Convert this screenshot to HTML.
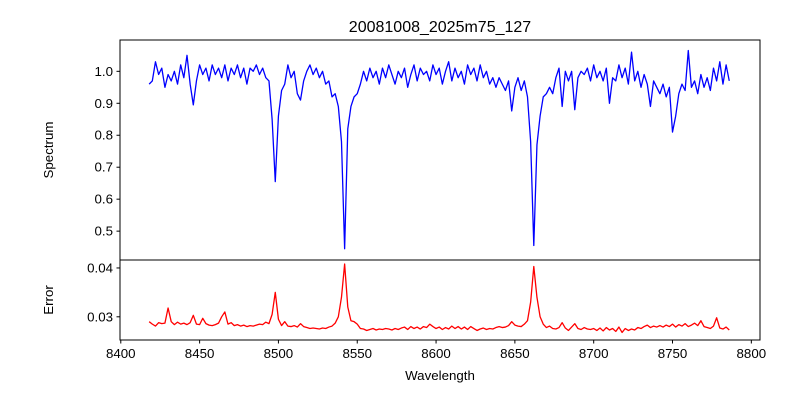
<!DOCTYPE html>
<html><head><meta charset="utf-8"><style>
body{margin:0;background:#fff;}
svg{display:block;font-family:"Liberation Sans","DejaVu Sans",sans-serif;}
</style></head><body>
<svg id="chart" width="800" height="400">
<rect width="800" height="400" fill="#fff"/>
<text x="440" y="32" text-anchor="middle" font-size="16">20081008_2025m75_127</text>
<g id="topPanel"></g>
<g id="botPanel"></g>
<text transform="translate(53,150) rotate(-90)" text-anchor="middle" font-size="13.3">Spectrum</text>
<text transform="translate(53,300) rotate(-90)" text-anchor="middle" font-size="13.3">Error</text>
<text x="440" y="380" text-anchor="middle" font-size="13.3">Wavelength</text>
</svg>
<script>
const waveStart = 8418, waveStep = 2;
const flux = [.96,.97,1.03,.99,1.01,.95,.99,.97,1.00,.96,1.02,.98,1.05,.96,.895,.97,1.02,.99,1.01,.97,1.02,.99,1.01,.98,1.02,.97,1.01,.99,1.02,.98,1.01,.96,1.01,1.00,1.02,.99,1.01,.98,.97,.85,.655,.86,.94,.96,1.02,.98,1.00,.93,.91,.97,1.00,1.02,.99,1.01,.98,1.00,.96,.97,.92,.93,.89,.78,.445,.82,.89,.92,.93,.96,1.00,.97,1.01,.98,1.00,.96,1.01,.98,1.02,.99,.96,1.00,.98,1.01,.95,.99,1.02,.97,1.01,.99,1.00,.97,1.02,.99,1.01,.96,1.00,1.03,.97,1.01,.98,1.00,.96,1.02,.99,1.01,.97,1.02,.98,1.00,.96,.98,.95,.98,.96,.94,.97,.876,.95,.98,.94,.97,.92,.78,.455,.77,.86,.92,.93,.95,.93,.98,1.01,.89,1.00,.97,1.00,.88,.98,1.00,.99,1.01,.97,1.02,.98,1.00,.97,1.01,.90,.98,.97,1.02,.98,1.01,.96,1.06,.97,1.00,.95,.99,.96,.89,.97,.95,.93,.96,.92,.95,.81,.86,.93,.96,.94,1.065,.95,.97,.93,.99,.95,.98,.94,1.01,.97,1.03,.96,1.02,.97];
const err = [.0290,.0285,.0281,.0288,.0286,.0287,.0318,.0290,.0284,.0289,.0285,.0287,.0284,.0288,.0303,.0285,.0284,.0297,.0286,.0283,.0282,.0284,.0287,.0300,.0310,.0285,.0288,.0282,.0284,.0281,.0283,.0280,.0282,.0281,.0283,.0285,.0284,.0289,.0286,.0305,.0350,.0295,.0282,.0290,.0281,.0280,.0282,.0279,.0286,.0280,.0278,.0276,.0277,.0276,.0275,.0277,.0276,.0279,.0281,.0287,.0300,.0340,.0408,.0320,.0292,.0290,.0285,.0276,.0275,.0272,.0274,.0276,.0273,.0275,.0274,.0276,.0275,.0273,.0276,.0274,.0277,.0279,.0274,.0280,.0276,.0279,.0275,.0280,.0278,.0285,.0280,.0276,.0279,.0274,.0278,.0275,.0281,.0276,.0280,.0275,.0279,.0274,.0280,.0276,.0272,.0275,.0277,.0274,.0276,.0275,.0278,.0280,.0278,.0279,.0282,.0290,.0283,.0281,.0280,.0285,.0292,.0330,.0403,.0340,.0300,.0285,.0278,.0281,.0276,.0275,.0278,.0288,.0277,.0272,.0279,.0286,.0276,.0274,.0278,.0275,.0274,.0276,.0272,.0277,.0271,.0278,.0273,.0276,.0270,.0279,.0268,.0276,.0272,.0275,.0273,.0278,.0276,.0280,.0283,.0278,.0281,.0279,.0282,.0279,.0283,.0280,.0285,.0279,.0284,.0281,.0286,.0280,.0283,.0287,.0282,.0292,.0280,.0278,.0276,.0281,.0298,.0277,.0275,.0279,.0273];
const xTicks = [8400,8450,8500,8550,8600,8650,8700,8750,8800];
const fluxTicks = [0.5,0.6,0.7,0.8,0.9,1.0];
const errTicks = [0.03,0.04];

const NS = "http://www.w3.org/2000/svg";
const L = 120, R = 760;
const xMin = 8399.5, xMax = 8805.5;
const X = w => L + (w - xMin) / (xMax - xMin) * (R - L);
const YT = v => 40 + (1.098 - v) / (1.098 - 0.4097) * 220;
const YB = v => 260 + (0.04163 - v) / (0.04163 - 0.02525) * 80;
function mk(tag, attrs, parent){const e=document.createElementNS(NS,tag);for(const k in attrs)e.setAttribute(k,attrs[k]);parent.appendChild(e);return e;}
const topG = document.getElementById('topPanel'), botG = document.getElementById('botPanel');

function drawLine(arr, Y, color, parent, name){
  let d = '';
  arr.forEach((v,i)=>{const w = waveStart + i*waveStep; d += (i?'L':'M') + X(w).toFixed(2) + ',' + Y(v).toFixed(2);});
  const p = mk('path',{d:d,fill:'none',stroke:color,'stroke-width':1.3,'stroke-linejoin':'round'},parent);
  
  
}
drawLine(flux, YT, '#0000ff', topG, 'spectrum-line');
drawLine(err, YB, '#ff0000', botG, 'error-line');

const f1 = mk('rect',{x:L,y:40,width:R-L,height:220,fill:'none',stroke:'#000','stroke-width':1},topG);


const f2 = mk('rect',{x:L,y:260,width:R-L,height:80,fill:'none',stroke:'#000','stroke-width':1},botG);



fluxTicks.forEach(v=>{
  const y = YT(v);
  mk('line',{x1:L-3.5,x2:L,y1:y,y2:y,stroke:'#000'},topG);
  const t = mk('text',{x:L-7,y:y+4.5,'text-anchor':'end','font-size':13.3},topG);
  t.textContent = v.toFixed(1);
  
  
});
errTicks.forEach(v=>{
  const y = YB(v);
  mk('line',{x1:L-3.5,x2:L,y1:y,y2:y,stroke:'#000'},botG);
  const t = mk('text',{x:L-7,y:y+4.5,'text-anchor':'end','font-size':13.3},botG);
  t.textContent = v.toFixed(2);
  
  
});
xTicks.forEach(v=>{
  const x = X(v);
  mk('line',{x1:x,x2:x,y1:340,y2:343.5,stroke:'#000'},botG);
  const t = mk('text',{x:x,y:358,'text-anchor':'middle','font-size':13.3},botG);
  t.textContent = v;
  
  
});
</script>
</body></html>
